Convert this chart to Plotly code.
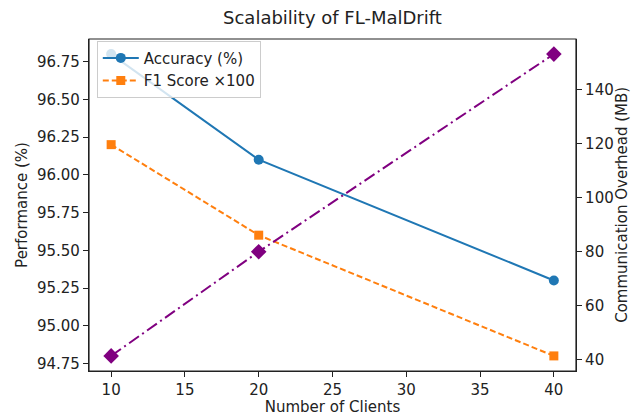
import plotly.graph_objects as go

# Scalability experiment results
clients = [10, 20, 40]
accuracy = [96.8, 96.1, 95.3]          # Accuracy (%)
f1_x100 = [96.2, 95.6, 94.8]           # F1 score scaled by 100
comm_mb = [41.5, 80.0, 153.0]          # communication overhead (MB)

perf_ticks = [94.75, 95.00, 95.25, 95.50, 95.75, 96.00, 96.25, 96.50, 96.75]
comm_ticks = [40, 60, 80, 100, 120, 140]
client_ticks = [10, 15, 20, 25, 30, 35, 40]


def padded(vals, frac=0.05):
    lo, hi = min(vals), max(vals)
    span = hi - lo
    return [lo - frac * span, hi + frac * span]


FONT = "DejaVu Sans"
INK = "#222222"

fig = go.Figure()
fig.add_trace(go.Scatter(
    x=clients, y=accuracy, name="Accuracy (%)", mode="lines+markers",
    line=dict(color="#1f77b4", width=2),
    marker=dict(symbol="circle", size=10, color="#1f77b4"),
    yaxis="y",
))
fig.add_trace(go.Scatter(
    x=clients, y=f1_x100, name="F1 Score ×100", mode="lines+markers",
    line=dict(color="#ff7f0e", width=2, dash="6px,3px"),
    marker=dict(symbol="square", size=9, color="#ff7f0e"),
    yaxis="y",
))
fig.add_trace(go.Scatter(
    x=clients, y=comm_mb, name="Communication Overhead (MB)", mode="lines+markers",
    line=dict(color="#800080", width=2, dash="12px,4px,2px,4px"),
    marker=dict(symbol="diamond", size=12, color="#800080"),
    yaxis="y2", showlegend=False,
))

axis_common = dict(
    showline=True, linecolor="#222222", linewidth=1.2, mirror=False,
    ticks="outside", ticklen=5, tickwidth=1.2, tickcolor="#222222",
    showgrid=False, zeroline=False, automargin=False,
    tickfont=dict(family=FONT, size=15, color=INK),
)

fig.update_layout(
    width=632, height=416,
    margin=dict(l=89, r=56, t=39, b=45),
    paper_bgcolor="white", plot_bgcolor="white",
    font=dict(family=FONT, size=15, color=INK),
    title=dict(text="Scalability of FL-MalDrift", x=0.526, xanchor="center",
               y=0.957, yanchor="middle",
               font=dict(family=FONT, size=18, color=INK)),
    xaxis=dict(
        **axis_common, range=padded(clients), tickvals=client_ticks,
        title=dict(text="Number of Clients", standoff=4,
                   font=dict(family=FONT, size=15, color=INK)),
    ),
    yaxis=dict(
        **axis_common, range=padded(accuracy + f1_x100), tickvals=perf_ticks,
        tickformat=".2f",
        title=dict(text="Performance (%)", standoff=5,
                   font=dict(family=FONT, size=15, color=INK)),
    ),
    yaxis2=dict(
        **axis_common, range=padded(comm_mb), tickvals=comm_ticks,
        overlaying="y", side="right",
    ),
    legend=dict(
        x=0.016, y=0.995, xanchor="left", yanchor="top",
        bgcolor="rgba(255,255,255,0.8)", bordercolor="#cccccc", borderwidth=1,
        font=dict(family=FONT, size=15, color=INK),
        itemwidth=36, tracegroupgap=0,
    ),
    showlegend=True,
)

# right-hand axis title, kept just inside the page edge
fig.add_annotation(
    text="Communication Overhead (MB)", textangle=-90,
    xref="paper", yref="paper", x=1.094, y=0.5,
    xanchor="center", yanchor="middle", showarrow=False,
    font=dict(family=FONT, size=15, color=INK),
)

# frame the plot area on all four sides
fig.add_shape(type="rect", xref="paper", yref="paper", x0=0, y0=0, x1=1, y1=1,
              line=dict(color="#222222", width=1.2), layer="above")

fig.write_html("out.html")
